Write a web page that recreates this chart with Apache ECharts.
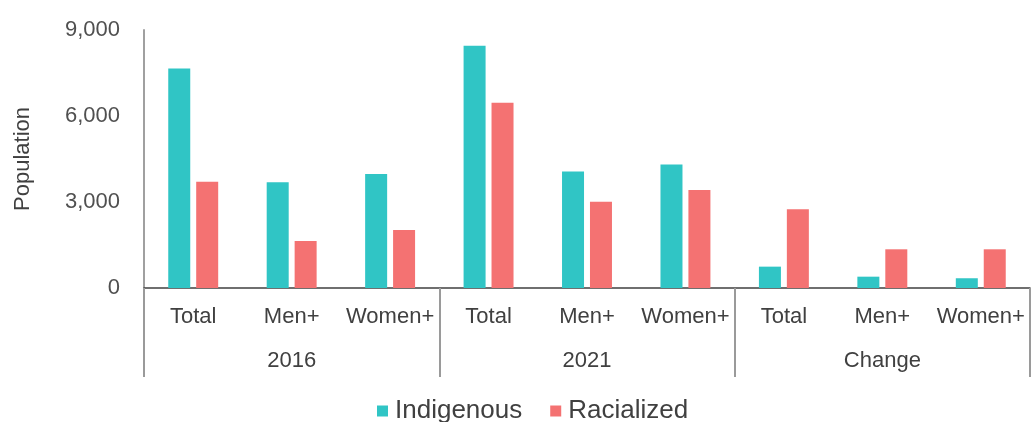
<!DOCTYPE html>
<html>
<head>
<meta charset="utf-8">
<script src="https://cdn.jsdelivr.net/npm/echarts@6/dist/echarts.min.js"></script>
<style>
html,body{margin:0;padding:0;background:#fff;}
#chart{width:1031px;height:422px;}
</style>
</head>
<body>
<div id="chart"></div>
<script>
const categories = ['Total', 'Men+', 'Women+', 'Total', 'Men+', 'Women+', 'Total', 'Men+', 'Women+'];
const groups = ['2016', '2021', 'Change'];
const indigenous = [7660, 3690, 3980, 8450, 4060, 4310, 745, 395, 340];
const racialized = [3710, 1640, 2020, 6460, 3010, 3420, 2745, 1350, 1350];
const yTicks = { min: 0, max: 9000, interval: 3000 };

const chart = echarts.init(document.getElementById('chart'));
const font = 'Liberation Sans, Arial, sans-serif';
chart.setOption({
  animation: false,
  backgroundColor: '#fff',
  grid: { left: 144, right: 1, top: 30, bottom: 134 },
  legend: {
    top: 393,
    left: 372,
    itemWidth: 11,
    itemHeight: 11,
    itemGap: 28,
    icon: 'rect',
    textStyle: { fontFamily: font, fontSize: 26, color: '#404040', padding: [0, 0, 0, 2] },
    data: ['Indigenous', 'Racialized']
  },
  xAxis: [
    {
      type: 'category',
      data: categories,
      position: 'bottom',
      axisLine: { show: true, lineStyle: { color: '#404040', width: 1.5 } },
      axisTick: { show: false },
      axisLabel: { margin: 18, fontFamily: font, fontSize: 22, color: '#404040', interval: 0 }
    },
    {
      type: 'category',
      data: groups,
      position: 'bottom',
      axisLine: { show: false },
      axisTick: { show: true, length: 89, lineStyle: { color: '#9a9a9a', width: 2 } },
      axisLabel: { margin: 62, fontFamily: font, fontSize: 22, color: '#404040', interval: 0 }
    }
  ],
  yAxis: {
    type: 'value',
    min: yTicks.min, max: yTicks.max, interval: yTicks.interval,
    name: 'Population',
    nameLocation: 'middle',
    nameGap: 110,
    nameRotate: 90,
    nameTextStyle: { fontFamily: font, fontSize: 22, color: '#404040' },
    axisLine: { show: true, lineStyle: { color: '#a0a0a0', width: 2 } },
    axisTick: { show: false },
    splitLine: { show: false },
    axisLabel: {
      margin: 24, fontFamily: font, fontSize: 22, color: '#505050',
      formatter: v => v.toLocaleString('en-US')
    }
  },
  series: [
    {
      name: 'Indigenous', type: 'bar', data: indigenous,
      barWidth: 22, barGap: '27%',
      itemStyle: { color: '#30C5C5' }
    },
    {
      name: 'Racialized', type: 'bar', data: racialized,
      barWidth: 22, barGap: '27%',
      itemStyle: { color: '#F47272' }
    }
  ]
});
</script>
</body>
</html>
